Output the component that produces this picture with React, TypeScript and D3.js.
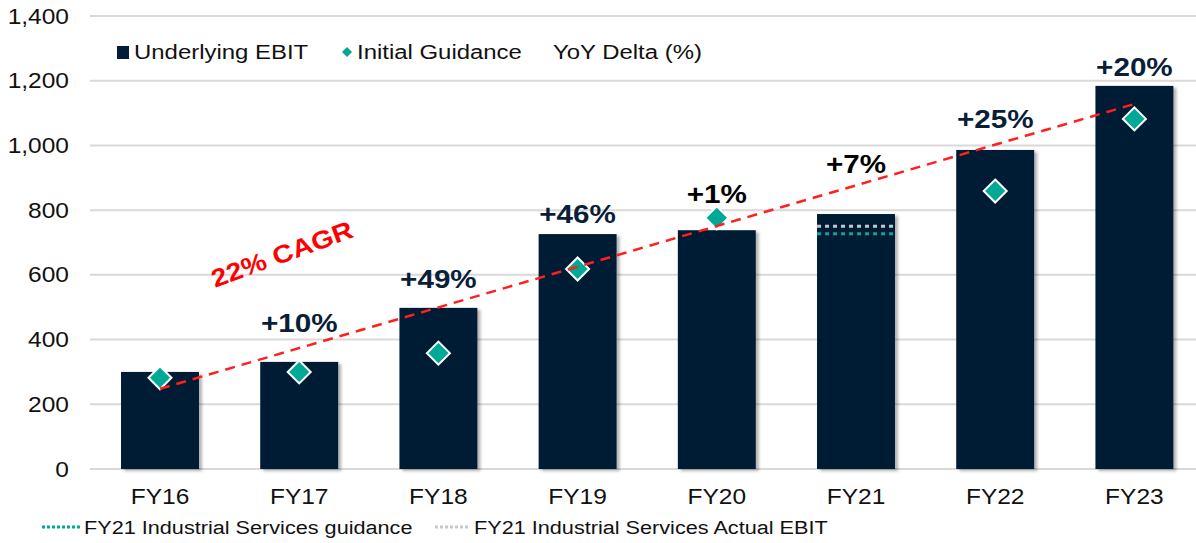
import React from 'react';
import * as d3 from 'd3';

// values
const categories = ['FY16', 'FY17', 'FY18', 'FY19', 'FY20', 'FY21', 'FY22', 'FY23'];
const ebit = [300, 331, 498, 726, 738, 788, 986, 1184];
const guidance: (number | null)[] = [282, 300, 358, 618, 776, null, 859, 1082];
const yoyLabels = ['', '+10%', '+49%', '+46%', '+1%', '+7%', '+25%', '+20%'];
// where each delta label sits, in EBIT units
const yoyAnchor = [0, 423, 559, 760, 822, 915, 1054, 1215];
const yTicks = [0, 200, 400, 600, 800, 1000, 1200, 1400];
const fy21Guidance = 727;
const fy21Actual = 750;
const cagrFrom = 248;
const cagrTo = 1128;

const NAVY = '#031C36';
const TEAL = '#00A996';
const RED = '#FF1F1F';
const GREY = '#C8C8C8';
const FONT = '"Liberation Sans", Arial, sans-serif';
const STRETCH = 1.14; // source text is a bit wider than Liberation Sans

const W = 1196;
const H = 543;

// text drawn slightly stretched horizontally
const T = ({ x, y, children, anchor = 'start', size = 21, bold = false, fill = '#111', rotate = 0, dy = '0.35em' }: any) => (
  <g transform={`translate(${x},${y}) rotate(${rotate}) scale(${STRETCH},1)`}>
    <text
      textAnchor={anchor}
      dy={dy}
      fontSize={size}
      fontWeight={bold ? 'bold' : 'normal'}
      fill={fill}
    >
      {children}
    </text>
  </g>
);

const App = () => {
  const x = d3
    .scaleBand<string>()
    .domain(categories)
    .range([90.4, 1204])
    .paddingInner(0.44)
    .paddingOuter(0.22);
  const y = d3.scaleLinear().domain([0, 1400]).range([469, 16]);
  const cx = (c: string) => (x(c) as number) + x.bandwidth() / 2;
  const fmt = d3.format(',');

  const diamond = (px: number, py: number, r: number) =>
    `M${px},${py - r}L${px + r},${py}L${px},${py + r}L${px - r},${py}Z`;

  const cagrLine = d3.line<[number, number]>()([
    [cx('FY16'), y(cagrFrom)],
    [cx('FY23'), y(cagrTo)],
  ]) as string;

  const fy21x = x('FY21') as number;

  return (
    <svg
      width={W}
      height={H}
      style={{ position: 'absolute', left: 0, top: 0, background: '#fff', fontFamily: FONT }}
    >
      <defs>
        <filter id="shadow" x="-10%" y="-10%" width="130%" height="130%">
          <feDropShadow dx="3" dy="2" stdDeviation="1.5" floodColor="#000" floodOpacity="0.3" />
        </filter>
      </defs>

      {/* gridlines + y labels */}
      {yTicks.map(t => (
        <g key={t}>
          <line x1={90} x2={W} y1={y(t)} y2={y(t)} stroke="#D9D9D9" strokeWidth={2} />
          <T x={69} y={y(t)} anchor="end" size={21.5}>
            {fmt(t)}
          </T>
        </g>
      ))}

      {/* bars */}
      <g filter="url(#shadow)">
        {categories.map((c, i) => (
          <rect
            key={c}
            x={x(c)}
            y={y(ebit[i])}
            width={x.bandwidth()}
            height={y(0) - y(ebit[i])}
            fill={NAVY}
          />
        ))}
      </g>

      {/* FY21 industrial services lines */}
      <line
        x1={fy21x}
        x2={fy21x + x.bandwidth()}
        y1={y(fy21Actual)}
        y2={y(fy21Actual)}
        stroke={GREY}
        strokeWidth={3}
        strokeDasharray="4 4"
      />
      <line
        x1={fy21x}
        x2={fy21x + x.bandwidth()}
        y1={y(fy21Guidance)}
        y2={y(fy21Guidance)}
        stroke={TEAL}
        strokeWidth={3}
        strokeDasharray="4 4"
      />

      {/* guidance diamonds */}
      {categories.map((c, i) =>
        guidance[i] == null ? null : (
          <path
            key={c}
            d={diamond(cx(c), y(guidance[i] as number), 11.5)}
            fill={TEAL}
            stroke="#fff"
            strokeWidth={2}
          />
        )
      )}

      {/* CAGR trend */}
      <path d={cagrLine} fill="none" stroke={RED} strokeWidth={2.5} strokeDasharray="10 7" />
      <T x={282} y={254} anchor="middle" size={25} bold fill="#FF0000" rotate={-20}>
        22% CAGR
      </T>

      {/* YoY delta labels */}
      {categories.map((c, i) =>
        yoyLabels[i] ? (
          <T
            key={c}
            x={cx(c)}
            y={y(yoyAnchor[i])}
            dy="0"
            anchor="middle"
            size={26}
            bold
            fill={c === 'FY20' || c === 'FY21' ? '#000' : '#0A1E38'}
          >
            {yoyLabels[i]}
          </T>
        ) : null
      )}

      {/* x labels */}
      {categories.map(c => (
        <T key={c} x={cx(c)} y={496} anchor="middle" size={21.5}>
          {c}
        </T>
      ))}

      {/* top legend */}
      <rect x={117} y={46} width={12} height={13} fill={NAVY} />
      <T x={134} y={52}>Underlying EBIT</T>
      <path d={diamond(347, 52, 5)} fill={TEAL} />
      <T x={357} y={52}>Initial Guidance</T>
      <T x={553} y={52}>YoY Delta (%)</T>

      {/* bottom legend */}
      <line x1={42} x2={80} y1={527} y2={527} stroke={TEAL} strokeWidth={3} strokeDasharray="3 2" />
      <T x={84} y={527} size={19}>
        FY21 Industrial Services guidance
      </T>
      <line x1={435} x2={470} y1={527} y2={527} stroke={GREY} strokeWidth={3} strokeDasharray="3 2" />
      <T x={474} y={527} size={19}>
        FY21 Industrial Services Actual EBIT
      </T>
    </svg>
  );
};

export default App;
